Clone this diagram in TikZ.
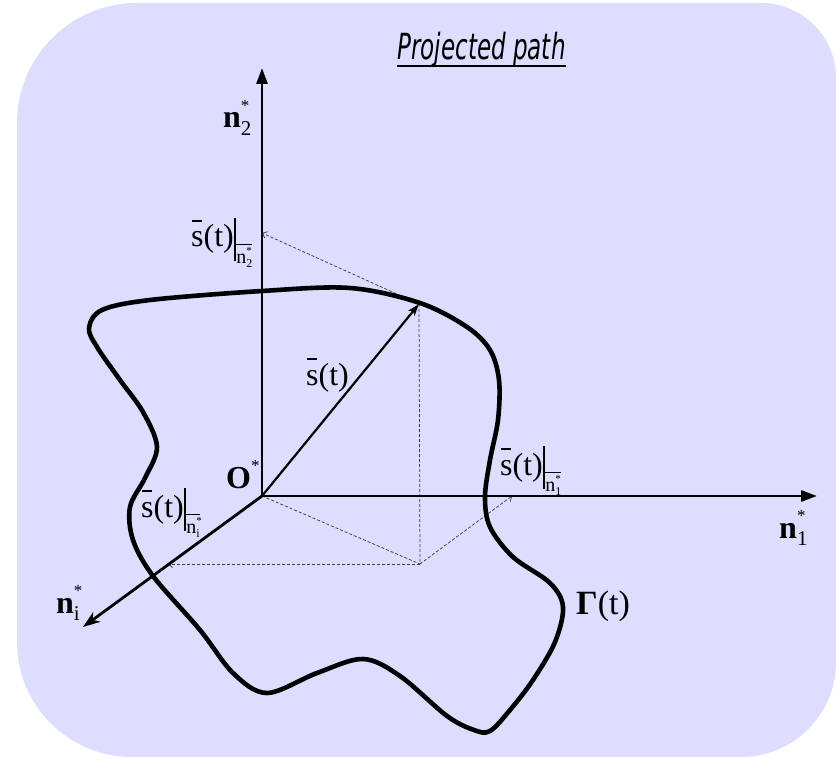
\documentclass[tikz,border=0pt]{standalone}
\usepackage{fontspec}
\usepackage{graphicx}
\setmainfont{Liberation Serif}
\newfontfamily\titlefont{DejaVu Sans}
\usetikzlibrary{arrows.meta}
\definecolor{bgc}{RGB}{221,221,255}
\definecolor{dsh}{RGB}{60,60,60}
\newcommand{\sbr}{\leavevmode\rlap{\kern0.03em\rule[0.78em]{0.3em}{0.06em}}s}
\newcommand{\vbr}{\rule[-0.43em]{0.08em}{1.33em}}
\newcommand{\prj}[1]{\raisebox{-0.52em}{\vbox{\hrule height 0.9pt\kern2.5pt\hbox{\fontsize{20}{20}\selectfont n\rlap{\raisebox{0.45em}{\fontsize{11}{11}\selectfont *}}\raisebox{-0.2em}{\fontsize{12}{12}\selectfont #1}}}}}
\newcommand{\axl}[1]{\textbf{n}\rlap{\raisebox{0.53em}{\fontsize{17}{17}\selectfont *}}\raisebox{-0.23em}{\fontsize{21}{21}\selectfont #1}}
\begin{document}
\begin{tikzpicture}[x=1pt,y=-1pt,
  lbl/.style={inner sep=0pt,anchor=base west,font=\fontsize{32}{32}\selectfont},
  axis/.style={line width=2.8pt},
  proj/.style={dsh,line width=0.75pt,dash pattern=on 3pt off 2pt},
  parr/.style={proj,-{Straight Barb[length=4pt,width=7pt]}},
  curve/.style={line width=4.6pt,line join=round}]
\useasboundingbox (0,0) rectangle (836,757);
\fill[bgc] (17,380) [rounded corners=120pt] -- (17,3) [rounded corners=75pt] -- (836,3) [rounded corners=95pt] -- (836,757) [rounded corners=115pt] -- (17,757) -- cycle;

\coordinate (O) at (262,496);
\coordinate (N2) at (262,68);
\coordinate (N1) at (817,496);
\coordinate (Ni) at (83,627);
\coordinate (P) at (419,304);
\coordinate (Q) at (420,564);
\coordinate (P2) at (262,233);
\coordinate (P1) at (512,496);
\coordinate (Pi) at (168,564);

% projections
\draw[proj] (P) -- (Q);
\draw[proj] (O) -- (Q);
\draw[parr] (P) -- (P2);
\draw[parr] (Q) -- (P1);
\draw[parr] (Q) -- (Pi);

% path Gamma
\draw[curve] plot[smooth cycle, tension=0.55] coordinates {
 (262,291) (350,288) (420,303) (467,327) (490,350) (499,380) (498,420) (490,460)
 (485,497) (490,527) (513,557) (550,583) (563,607) (555,642) (533,680) (510,710)
 (490,731) (474,730) (447,716) (400,676) (363,659) (317,673) (267,693) (233,673)
 (200,630) (153,576) (133,540) (130,507) (145,478) (157,447) (143,412) (120,380)
 (97,347) (89,328) (102,310) (150,300)};

% axes
\draw[axis,-{Triangle[length=16pt,width=11pt]}] (O) -- (N2);
\draw[axis,-{Triangle[length=16pt,width=11pt]}] (O) -- (N1);
\draw[axis,-{Stealth[length=17pt,width=12pt,inset=5pt]}] (O) -- (Ni);
\draw[line width=2.2pt,-{Stealth[length=12pt,width=8pt,inset=3pt]}] (O) -- (P);

% labels
\node[lbl] (ln2) at (223,128) {\axl{2}};
\node[lbl] (ln1) at (779,538) {\axl{1}};
\node[lbl] (lni) at (56,613) {\axl{i}};
\node[lbl] (lO) at (226,488) {\textbf{O}\raisebox{0.53em}{\fontsize{17}{17}\selectfont *}};
\node[lbl] (ls) at (306,385) {\sbr(t)};
\node[lbl] (ls2) at (191,247) {\sbr(t)\vbr\prj{2}};
\node[lbl] (ls1) at (500,475) {\sbr(t)\vbr\prj{1}};
\node[lbl] (lsi) at (141,517) {\sbr(t)\vbr\prj{i}};
\node[lbl,font=\fontsize{34}{34}\selectfont] (lg) at (576,614) {\textbf{Γ}(t)};
\node[inner sep=0pt,anchor=base] (title) at (481.5,60) {\titlefont\itshape\fontsize{36}{36}\selectfont\scalebox{0.64}[1]{Projected path}};
\draw[line width=1.8pt] ([yshift=-6pt]title.base west) -- ([yshift=-6pt]title.base east);
\end{tikzpicture}
\end{document}
